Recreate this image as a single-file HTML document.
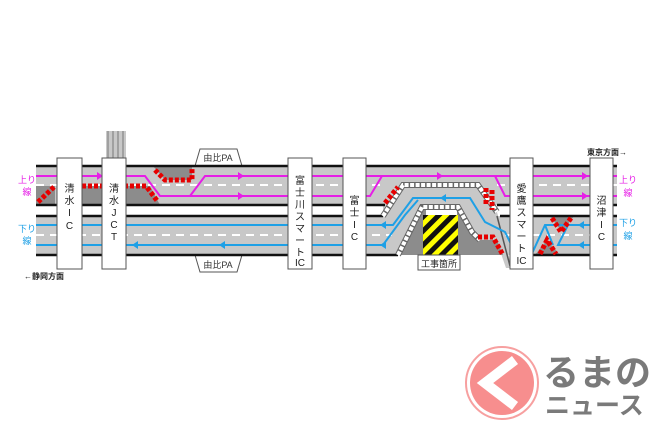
<!DOCTYPE html>
<html><head><meta charset="utf-8"><style>
html,body{margin:0;padding:0;background:#fff;width:650px;height:433px;overflow:hidden}
svg{display:block}
text{font-family:"Liberation Sans","Noto Sans CJK JP",sans-serif}
</style></head><body>
<svg width="650" height="433" viewBox="0 0 650 433" xmlns="http://www.w3.org/2000/svg">
<defs><pattern id="h" width="10" height="10" patternUnits="userSpaceOnUse" patternTransform="rotate(45)"><rect width="10" height="10" fill="#ffff00"/><rect width="5" height="10" fill="#111"/></pattern></defs>
<!-- JCT vertical lines -->
<rect x="106" y="131" width="20" height="30" fill="#c8c8c8"/>
<g stroke="#777" stroke-width="1"><line x1="108" y1="131" x2="108" y2="161"/><line x1="113" y1="131" x2="113" y2="161"/><line x1="118" y1="131" x2="118" y2="161"/><line x1="123" y1="131" x2="123" y2="161"/></g>
<!-- PA trapezoids -->
<polygon points="195,166 200,149 237,149 242,166" fill="#fff" stroke="#555" stroke-width="1"/>
<text x="218" y="161" font-size="9" text-anchor="middle" fill="#333">由比PA</text>
<polygon points="195,255 200,272 237,272 242,255" fill="#fff" stroke="#555" stroke-width="1"/>
<text x="218" y="268" font-size="9" text-anchor="middle" fill="#333">由比PA</text>
<!-- roads -->
<rect x="36" y="166" width="581" height="39" fill="#c8c8c8"/>
<rect x="36" y="216" width="581" height="39" fill="#c8c8c8"/>
<!-- closed dark areas -->
<polygon points="36,186 55,186 55,205 36,205" fill="#8c8c8c"/>
<polygon points="82,186 150,186 160,205 82,205" fill="#8c8c8c"/>
<polygon points="153,166 192,166 192,180 165,180" fill="#8c8c8c"/>
<!-- detour ramp: base -->
<polygon points="383,205 403,185 478,185 497,212 512,268 506,268 488,216 383,216" fill="#c8c8c8"/>
<!-- dark closed area in lower road -->
<polygon points="398,255 422,207 458,207 472,232 480,240 497,240 503,255" fill="#8c8c8c"/>
<polygon points="535,255 547,240 560,255" fill="#8c8c8c"/>
<polygon points="550,216 574,216 562,232" fill="#8c8c8c"/>
<!-- ramp lighter band over dark area -->
<polygon points="398,255 422,207 458,207 472,232 458,232 452,215 428,215 410,255" fill="#c8c8c8" opacity="0"/>
<rect x="426" y="208" width="31" height="8" fill="#fff"/>
<rect x="423" y="215" width="35" height="40" fill="url(#h)"/>
<!-- borders -->
<g stroke="#111" stroke-width="2.5">
<line x1="36" y1="166" x2="617" y2="166"/><line x1="36" y1="205" x2="385" y2="205"/><line x1="497" y1="205" x2="617" y2="205"/>
<line x1="36" y1="216" x2="383" y2="216"/><line x1="500" y1="216" x2="617" y2="216"/><line x1="36" y1="255" x2="398" y2="255"/><line x1="533" y1="255" x2="617" y2="255"/>
</g>
<line x1="497" y1="216" x2="510" y2="266" stroke="#555" stroke-width="1.5"/>
<!-- dashed centers -->
<g stroke="#fff" stroke-width="2" stroke-dasharray="8,6"><line x1="36" y1="185" x2="383" y2="185"/><line x1="497" y1="185" x2="617" y2="185"/><line x1="36" y1="235" x2="392" y2="235"/><line x1="505" y1="235" x2="617" y2="235"/></g>
<!-- barriers -->
<g fill="none">
<polyline points="383,216 403,185 478,185 497,212" stroke="#666" stroke-width="6"/>
<polyline points="383,216 403,185 478,185 497,212" stroke="#fff" stroke-width="4" stroke-dasharray="4,1.5"/>
<polyline points="398,255 422,207 458,207 472,232 480,240" stroke="#666" stroke-width="6"/>
<polyline points="398,255 422,207 458,207 472,232 480,240" stroke="#fff" stroke-width="4" stroke-dasharray="4,1.5"/>
</g>
<!-- magenta -->
<g stroke="#e61ee6" stroke-width="2" fill="none">
<polyline points="36,176 145,176 160,196 285,196"/>
<polyline points="190,196 205,176 617,176"/>
<polyline points="285,196 370,196 382,176"/>
<polyline points="495,176 505,196 617,196"/>
</g>
<g fill="#e61ee6"><polygon points="97,172 103,176 97,180"/><polygon points="238,172 244,176 238,180"/><polygon points="238,192 244,196 238,200"/><polygon points="437,172 443,176 437,180"/><polygon points="582,172 588,176 582,180"/><polygon points="582,192 588,196 582,200"/></g>
<!-- blue -->
<g stroke="#1ea0e6" stroke-width="2" fill="none">
<polyline points="36,225 393,225 413,198 470,198 485,222 505,232 520,262"/>
<polyline points="36,245 383,245 405,215 418,200"/>
<polyline points="617,225 545,225 530,258"/>
<polyline points="617,245 558,245 568,225"/>
<polyline points="545,225 553,245"/>
</g>
<g fill="#1ea0e6"><polygon points="132,245 138,241 138,249"/><polygon points="219,245 225,241 225,249"/><polygon points="380,225 386,221 386,229"/><polygon points="380,245 386,241 386,249"/><polygon points="440,198 446,194 446,202"/><polygon points="578,245 584,241 584,249"/><polygon points="578,225 584,221 584,229"/></g>
<!-- red closure dots -->
<g stroke="#e60000" stroke-width="5" stroke-dasharray="4,2" fill="none">
<polyline points="38,202 55,186"/><polyline points="82,186 146,186 158,202"/>
<polyline points="155,170 165,180 192,180 192,168"/>
<polyline points="385,203 398,187"/><polyline points="486,188 486,205"/><polyline points="492,190 492,210"/>
<polyline points="478,237 493,237 503,255"/>
<polyline points="552,218 561,232 571,218"/><polyline points="540,254 547,240 556,254"/>
</g>
<!-- boxes -->
<g fill="#fff" stroke="#555" stroke-width="1">
<rect x="57" y="158" width="25" height="111"/><rect x="102" y="158" width="24" height="111"/><rect x="288" y="158" width="24" height="111"/><rect x="343" y="158" width="23" height="111"/><rect x="510" y="158" width="23" height="111"/><rect x="590" y="158" width="23" height="111"/>
<rect x="418" y="255" width="42" height="15"/>
</g>
<g font-size="10" fill="#222" text-anchor="middle">
<text x="69.5" y="192">清</text><text x="69.5" y="204">水</text><text x="69.5" y="216">I</text><text x="69.5" y="229">C</text>
<text x="114" y="192">清</text><text x="114" y="204">水</text><text x="114" y="216">J</text><text x="114" y="228">C</text><text x="114" y="240">T</text>
<text x="300" y="184">富</text><text x="300" y="196">士</text><text x="300" y="208">川</text><text x="300" y="220">ス</text><text x="300" y="232">マ</text><text x="300" y="244">ー</text><text x="300" y="256">ト</text><text x="300" y="266">IC</text>
<text x="354.5" y="204">富</text><text x="354.5" y="216">士</text><text x="354.5" y="228">I</text><text x="354.5" y="240">C</text>
<text x="521.5" y="192">愛</text><text x="521.5" y="204">鷹</text><text x="521.5" y="216">ス</text><text x="521.5" y="228">マ</text><text x="521.5" y="240">ー</text><text x="521.5" y="252">ト</text><text x="521.5" y="264">IC</text>
<text x="601.5" y="204">沼</text><text x="601.5" y="216">津</text><text x="601.5" y="228">I</text><text x="601.5" y="240">C</text>
<text x="439" y="267" font-size="9">工事箇所</text>
</g>
<g font-size="9" text-anchor="middle">
<text x="27" y="183" fill="#e61ee6">上り</text><text x="27" y="195" fill="#e61ee6">線</text>
<text x="27" y="232" fill="#1ea0e6">下り</text><text x="27" y="244" fill="#1ea0e6">線</text>
<text x="628" y="183" fill="#e61ee6">上り</text><text x="628" y="196" fill="#e61ee6">線</text>
<text x="628" y="226" fill="#1ea0e6">下り</text><text x="628" y="239" fill="#1ea0e6">線</text>
</g>
<text x="24" y="279" font-size="8" font-weight="bold" fill="#222">←静岡方面</text>
<text x="587" y="155" font-size="8" font-weight="bold" fill="#222">東京方面→</text>
<!-- logo -->
<circle cx="502" cy="383" r="36" fill="#fff" stroke="#f7a0a0" stroke-width="2"/>
<circle cx="502" cy="383" r="32" fill="#f78e8e"/>
<polyline points="515,360 485,383 515,406" fill="none" stroke="#fff" stroke-width="10"/>
<text x="543" y="385" font-size="36" font-weight="bold" fill="#7a7a7a">るまの</text>
<text x="545" y="414" font-size="25" font-weight="bold" fill="#7a7a7a">ニュース</text>
</svg>
</body></html>
